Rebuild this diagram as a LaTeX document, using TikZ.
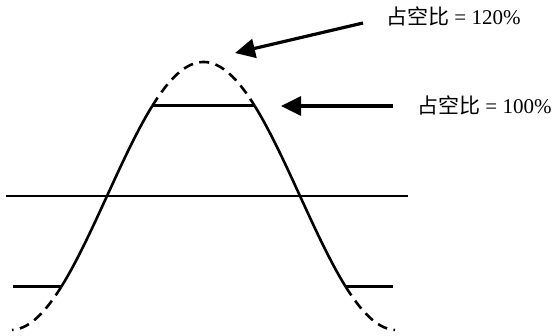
\documentclass[tikz,border=0pt]{standalone}
\usepackage{fontspec}
\setmainfont{Liberation Serif}
\newfontfamily\cjk{Noto Sans CJK SC}
\usetikzlibrary{arrows.meta}
\tikzset{
  wave/.style={line width=2.6pt},
  dashwave/.style={line width=2.6pt, dash pattern=on 10pt off 6.5pt},
  flatseg/.style={line width=3pt},
  axisline/.style={line width=1.4pt},
  pointer/.style={line width=3.2pt, -{Triangle[length=20pt,width=19pt]}},
  lbl/.style={font=\fontsize{21}{25}\selectfont, inner sep=0pt, anchor=base west}
}
\begin{document}
\begin{tikzpicture}[x=1pt,y=-1pt]
\useasboundingbox (0,0) rectangle (552,336);
% named points
\coordinate (axL) at (6,196);
\coordinate (axR) at (408,196);
\coordinate (topL) at (152.24,106);
\coordinate (topR) at (254.76,106);
\coordinate (botL1) at (13,287);
\coordinate (botL2) at (61.13,287);
\coordinate (botR1) at (345.87,287);
\coordinate (botR2) at (393,287);
\coordinate (a1s) at (363,23);
\coordinate (a1e) at (235,53);
\coordinate (a2s) at (393,106);
\coordinate (a2e) at (281,106);
% axis line
\draw[axisline] (axL) -- (axR);
% solid waveform parts
\draw[wave] plot[domain=61.13:152.24, samples=60, variable=\t] (\t, {196-134*cos(0.932642*(\t-203.5))});
\draw[wave] plot[domain=254.76:345.87, samples=60, variable=\t] (\t, {196-134*cos(0.932642*(\t-203.5))});
% clipped levels
\draw[flatseg] (topL) -- (topR);
\draw[flatseg] (botL1) -- (botL2);
\draw[flatseg] (botR1) -- (botR2);
% dashed parts
\draw[dashwave] plot[domain=61.13:12, samples=40, variable=\t] (\t, {196-134*cos(0.932642*(\t-203.5))});
\draw[dashwave] plot[domain=152.24:254.76, samples=60, variable=\t] (\t, {196-134*cos(0.932642*(\t-203.5))});
\draw[dashwave] plot[domain=345.87:395, samples=40, variable=\t] (\t, {196-134*cos(0.932642*(\t-203.5))});
% labels
\node[lbl] (t1) at (386,25) {{\cjk 占空比} = 120\%};
\node[lbl] (t2) at (417,114) {{\cjk 占空比} = 100\%};
% arrows
\draw[pointer] (a1s) -- (a1e);
\draw[pointer] (a2s) -- (a2e);
\end{tikzpicture}
\end{document}
